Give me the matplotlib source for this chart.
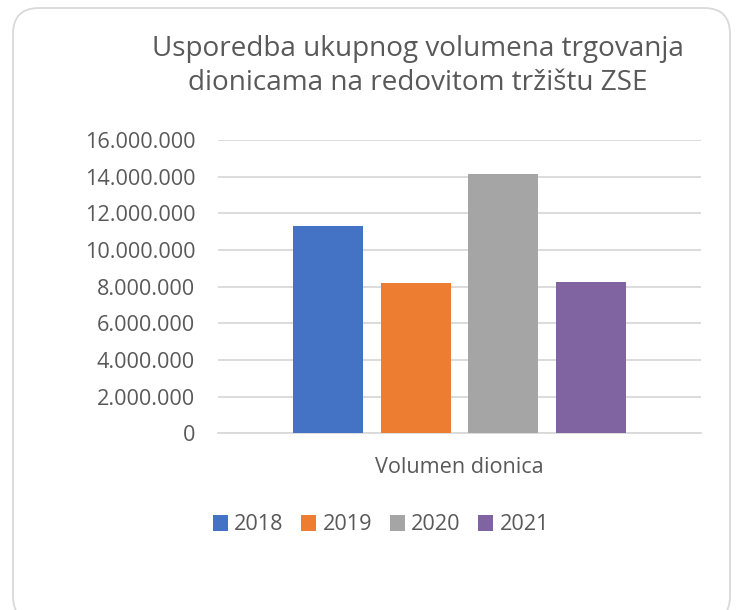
import matplotlib
matplotlib.use("Agg")
import matplotlib.pyplot as plt
from matplotlib.patches import FancyBboxPatch
from matplotlib.ticker import FuncFormatter

# data
years = ["2018", "2019", "2020", "2021"]
volumes = [11_310_000, 8_200_000, 14_150_000, 8_250_000]
colors = ["#4472C4", "#ED7D31", "#A5A5A5", "#8064A2"]
category = "Volumen dionica"
title = "Usporedba ukupnog volumena trgovanja\ndionicama na redovitom tržištu ZSE"

TXT = "#595959"
GRID = "#D9D9D9"
plt.rcParams["font.family"] = ["Open Sans", "DejaVu Sans"]

W, H = 738, 610
fig = plt.figure(figsize=(W / 100, H / 100), dpi=100)

# rounded chart border (display pixels, origin bottom-left; bottom edge runs off the image)
border = FancyBboxPatch((13, -12), 717, 614, boxstyle="round,pad=0,rounding_size=26",
                        transform=None, fill=False, edgecolor=GRID, linewidth=1.3)
fig.patches.append(border)

x0, x1, ytop, ybot = 218, 701, 140, 433.3
ax = fig.add_axes([x0 / W, 1 - ybot / H, (x1 - x0) / W, (ybot - ytop) / H])

step = 0.181
width = 0.145
for i, (yr, v, c) in enumerate(zip(years, volumes, colors)):
    ax.bar((i - 1.5) * step, v, width=width, color=c, label=yr, zorder=3)

ax.set_xlim(-0.5, 0.5)
ax.set_ylim(0, 16_000_000)
ax.set_yticks(range(0, 16_000_001, 2_000_000))
ax.yaxis.set_major_formatter(FuncFormatter(lambda v, p: f"{int(v):,}".replace(",", ".")))
ax.set_xticks([0])
ax.set_xticklabels([category])
ax.grid(axis="y", color=GRID, linewidth=1.3, zorder=0)
for s in ["top", "right", "left"]:
    ax.spines[s].set_visible(False)
ax.spines["bottom"].set_color(GRID)
ax.spines["bottom"].set_linewidth(1.3)
ax.tick_params(axis="both", length=0, colors=TXT, labelsize=15.6)
ax.tick_params(axis="y", pad=16.5)
ax.tick_params(axis="x", pad=17)

fig.text(418 / W, 1 - 66 / H, title, ha="center", va="center", fontsize=20.1,
         color=TXT, linespacing=1.33)

handles, labels = ax.get_legend_handles_labels()
fig.legend(handles, labels, loc="center", bbox_to_anchor=(381 / W, 1 - 525 / H), ncol=4,
           frameon=False, fontsize=15.6, labelcolor=TXT, handlelength=0.7,
           handleheight=0.7, handletextpad=0.3, columnspacing=0.8)

fig.savefig("out.png", dpi=100)
